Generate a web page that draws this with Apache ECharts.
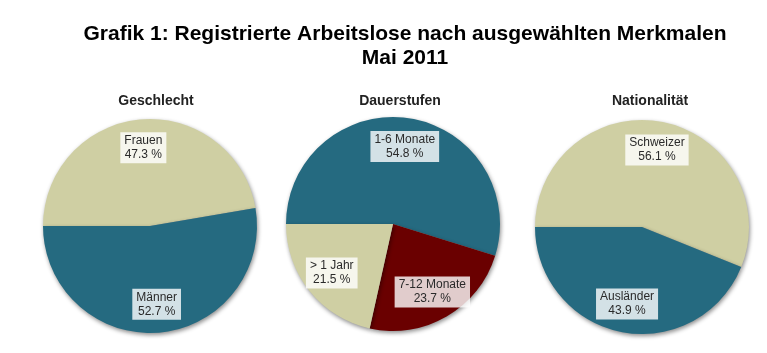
<!DOCTYPE html>
<html>
<head>
<meta charset="utf-8">
<script src="https://cdn.jsdelivr.net/npm/echarts@6/dist/echarts.min.js"></script>
<style>
  html, body { margin: 0; padding: 0; background: #fff; }
  #chart { width: 767px; height: 353px; }
</style>
</head>
<body>
<div id="chart"></div>
<script>
// Daten
const geschlechtNamen = ["Frauen", "Männer"];
const geschlechtWerte = [47.3, 52.7];
const dauerNamen = ["1-6 Monate", "7-12 Monate", "> 1 Jahr"];
const dauerWerte = [54.8, 23.7, 21.5];
const nationNamen = ["Schweizer", "Ausländer"];
const nationWerte = [56.1, 43.9];

const TEAL = "#256a80";
const BEIGE = "#cfcfa3";
const DARKRED = "#6a0000";

let chart = echarts.init(document.getElementById("chart"));

function toData(names, values, colors) {
    return names.map((n, i) => ({ name: n, value: values[i], itemStyle: { color: colors[i] } }));
}

// eine Torte = sichtbare Fläche + unsichtbare Serie für die Beschriftung
function pie(center, names, values, colors) {
    let data = toData(names, values, colors);
    return [
        {
            type: "pie",
            center: center,
            radius: 107,
            startAngle: 180,
            clockwise: true,
            silent: true,
            label: { show: false },
            labelLine: { show: false },
            itemStyle: {
                shadowBlur: 4,
                shadowOffsetX: 1,
                shadowOffsetY: 2,
                shadowColor: "rgba(0,0,0,0.45)"
            },
            data: data
        },
        {
            type: "pie",
            center: center,
            radius: [44, 107],
            startAngle: 180,
            clockwise: true,
            silent: true,
            itemStyle: { color: "transparent" },
            labelLine: { show: false },
            label: {
                show: true,
                position: "inside",
                formatter: p => p.name + "\n" + p.value.toFixed(1) + " %",
                color: "#2a2a2a",
                fontFamily: "Liberation Sans, Arial, sans-serif",
                fontSize: 12,
                lineHeight: 14,
                backgroundColor: "rgba(255,255,255,0.8)",
                padding: [2, 4, 1, 4]
            },
            data: data.map(d => ({ name: d.name, value: d.value, itemStyle: { color: "transparent" } }))
        }
    ];
}

const subStyle = {
    fontFamily: "Liberation Sans, Arial, sans-serif",
    fontSize: 14,
    fontWeight: "bold",
    color: "#222"
};

let option = {
    backgroundColor: "#fff",
    animation: false,
    title: [
        {
            text: "Grafik 1: Registrierte Arbeitslose nach ausgewählten Merkmalen\nMai 2011",
            left: 400,
            top: 17,
            textAlign: "center",
            textStyle: {
                fontFamily: "Liberation Sans, Arial, sans-serif",
                fontSize: 21,
                fontWeight: "bold",
                color: "#000",
                lineHeight: 24
            }
        },
        { text: "Geschlecht", left: 151, top: 89, textAlign: "center", textStyle: subStyle },
        { text: "Dauerstufen", left: 395, top: 89, textAlign: "center", textStyle: subStyle },
        { text: "Nationalität", left: 645, top: 89, textAlign: "center", textStyle: subStyle }
    ],
    series: [].concat(
        pie([150, 226], geschlechtNamen, geschlechtWerte, [BEIGE, TEAL]),
        pie([393, 224], dauerNamen, dauerWerte, [TEAL, DARKRED, BEIGE]),
        pie([642, 227], nationNamen, nationWerte, [BEIGE, TEAL])
    )
};

chart.setOption(option);
</script>
</body>
</html>
